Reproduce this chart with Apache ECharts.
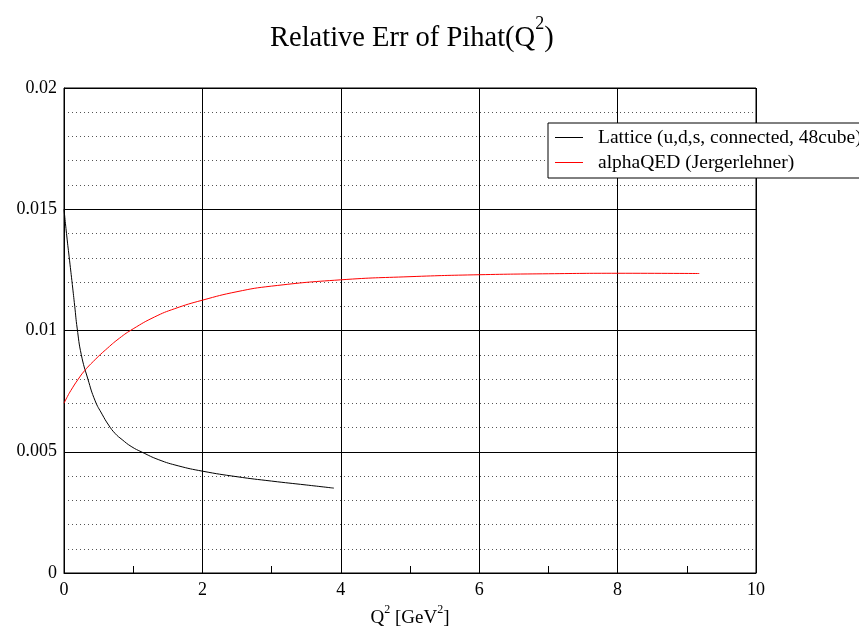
<!DOCTYPE html>
<html><head><meta charset="utf-8">
<script src="https://cdn.jsdelivr.net/npm/echarts@6/dist/echarts.min.js"></script>
<style>html,body{margin:0;padding:0;background:#fff}#c{width:859px;height:626px}</style>
</head><body><div id="c"></div>
<script>
const latticeX = [0, 0.04, 0.08, 0.12, 0.155, 0.19, 0.25, 0.345, 0.45, 0.55, 0.645, 0.74, 0.84, 0.97, 1.13, 1.37, 1.65, 2.0, 2.5, 3.0, 3.5, 3.9];
const latticeY = [0.0150, 0.0139, 0.0129, 0.0119, 0.0110, 0.0101, 0.0090, 0.0080, 0.0071, 0.00655, 0.0061, 0.00575, 0.0055, 0.00522, 0.00498, 0.00467, 0.00442, 0.0042, 0.00397, 0.00379, 0.00363, 0.0035];
const alphaX = [0, 0.05, 0.1, 0.2, 0.3, 0.45, 0.6, 0.8, 1.0, 1.31, 1.6, 2.0, 2.5, 3.0, 4.0, 5.0, 6.0, 7.0, 8.0, 9.18];
const alphaY = [0.0070, 0.00728, 0.00753, 0.00797, 0.00835, 0.0088, 0.0092, 0.00968, 0.01007, 0.01056, 0.0109, 0.01125, 0.0116, 0.01183, 0.01209, 0.01222, 0.0123, 0.01234, 0.01236, 0.01235];
const yTickLabels = {0: '0', 0.005: '0.005', 0.01: '0.01', 0.015: '0.015', 0.02: '0.02'};
const seriesNames = ['Lattice (u,d,s, connected, 48cube)', 'alphaQED (Jergerlehner)'];

const F = 'Liberation Serif';
const chart = echarts.init(document.getElementById('c'));
chart.setOption({
  animation: false,
  backgroundColor: '#fff',
  title: {
    text: '{a|Relative Err of Pihat(Q}{s|2}{a|)}',
    left: 265, top: 10,
    textStyle: {
      fontWeight: 'normal',
      rich: {
        a: {fontFamily: F, fontSize: 28.5, fontWeight: 'normal', color: '#000', lineHeight: 38, verticalAlign: 'bottom'},
        s: {fontFamily: F, fontSize: 18, fontWeight: 'normal', color: '#000', lineHeight: 38, verticalAlign: 'top'}
      }
    }
  },
  grid: {left: 64, right: 103, top: 88, bottom: 53, show: true, borderColor: '#000', borderWidth: 1,
         containLabel: false, outerBoundsMode: 'none'},
  legend: {
    left: 548, top: 123, orient: 'vertical',
    backgroundColor: '#fff', borderColor: '#000', borderWidth: 1,
    padding: [4.5, 20, 5.5, 7], itemGap: 5, itemWidth: 28, itemHeight: 1, icon: 'rect',
    textStyle: {fontFamily: F, fontSize: 19.5, lineHeight: 20, color: '#000', padding: [0, 0, 0, 10]},
    data: seriesNames
  },
  xAxis: {
    type: 'value', min: 0, max: 10, interval: 2,
    name: '{a|Q}{s|2}{a| [GeV}{s|2}{a|]}', nameLocation: 'middle', nameGap: 29,
    nameTextStyle: {rich: {
      a: {fontFamily: F, fontSize: 19, color: '#000', lineHeight: 24, verticalAlign: 'bottom'},
      s: {fontFamily: F, fontSize: 12, color: '#000', lineHeight: 24, verticalAlign: 'top'}
    }},
    axisLine: {lineStyle: {color: '#000', width: 1}},
    axisTick: {inside: true, length: 13, lineStyle: {color: '#000'}},
    minorTick: {show: true, splitNumber: 2, length: 7, lineStyle: {color: '#000'}},
    axisLabel: {fontFamily: F, fontSize: 18, color: '#000', margin: 8},
    splitLine: {show: true, lineStyle: {color: '#000', width: 1}}
  },
  yAxis: {
    type: 'value', min: 0, max: 0.02, interval: 0.005,
    axisLine: {lineStyle: {color: '#000', width: 1}},
    axisTick: {inside: true, length: 13, lineStyle: {color: '#000'}},
    minorTick: {show: false},
    axisLabel: {fontFamily: F, fontSize: 18, color: '#000', margin: 7,
      formatter: v => yTickLabels[Math.round(v * 1000) / 1000] ?? String(v)},
    splitLine: {show: true, lineStyle: {color: '#000', width: 1}},
    minorSplitLine: {show: true, lineStyle: {color: '#555', width: 1, type: [1, 3]}}
  },
  series: [
    {name: seriesNames[0], type: 'line', symbol: 'none', smooth: 0.5,
     lineStyle: {color: '#000', width: 1}, itemStyle: {color: '#000'},
     data: latticeX.map((x, i) => [x, latticeY[i]])},
    {name: seriesNames[1], type: 'line', symbol: 'none', smooth: 0.5,
     lineStyle: {color: '#ff0000', width: 1}, itemStyle: {color: '#ff0000'},
     data: alphaX.map((x, i) => [x, alphaY[i]])}
  ]
});
</script></body></html>
